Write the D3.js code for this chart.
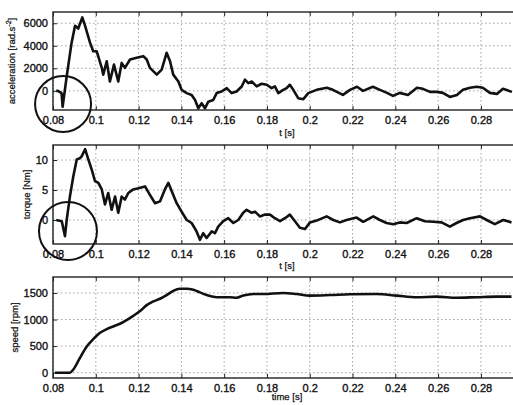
<!DOCTYPE html>
<html>
<head>
<meta charset="utf-8">
<script src="https://cdn.jsdelivr.net/npm/d3@7"></script>
<style>
  body { margin: 0; background: #fff; }
  svg { display: block; font-family: "Liberation Sans", Arial, sans-serif; }
  .grid line { stroke: #9a9a9a; stroke-width: 0.9; stroke-dasharray: 1.5 2.5; }
  .axis text { font-size: 11px; fill: #111; stroke: #111; stroke-width: 0.35; }
  .axis line { stroke: #222; }
  .axis path { display: none; }
  .frame { fill: none; stroke: #222; stroke-width: 1.4; }
  .curve { fill: none; stroke: #111; stroke-width: 2.6; stroke-linejoin: round; }
  .ring { fill: none; stroke: #111; stroke-width: 2; }
  .label { font-size: 9.5px; fill: #111; stroke: #111; stroke-width: 0.25; }
</style>
</head>
<body>
<div id="chart"></div>
<script>
// ---- data ----
const xTicks = [0.08, 0.1, 0.12, 0.14, 0.16, 0.18, 0.2, 0.22, 0.24, 0.26, 0.28];
const xTickLabels = ["0.08", "0.1", "0.12", "0.14", "0.16", "0.18", "0.2", "0.22", "0.24", "0.26", "0.28"];

const accelTicks = [0, 2000, 4000, 6000];
const torqueTicks = [0, 5, 10];
const speedTicks = [0, 500, 1000, 1500];

const accelTime = [0.0815, 0.0823, 0.0840, 0.0845, 0.0864, 0.0887, 0.0903, 0.0918, 0.0937, 0.0950,
  0.0973, 0.0988, 0.1004, 0.1028, 0.1035, 0.1051, 0.1066, 0.1085, 0.1105, 0.1121,
  0.1136, 0.1160, 0.1191, 0.1222, 0.1238, 0.1253, 0.1285, 0.1308, 0.1331, 0.1347,
  0.1362, 0.1386, 0.1401, 0.1425, 0.1448, 0.1464, 0.1479, 0.1495, 0.1510, 0.1526,
  0.1549, 0.1565, 0.1588, 0.1612, 0.1635, 0.1658, 0.1682, 0.1697, 0.1713, 0.1729,
  0.1752, 0.1775, 0.1799, 0.1822, 0.1837, 0.1853, 0.1876, 0.1892, 0.1907, 0.1923,
  0.1946, 0.1970, 0.1993, 0.2032, 0.2080, 0.2108, 0.2155, 0.2188, 0.2221, 0.2249,
  0.2295, 0.2328, 0.2361, 0.2389, 0.2421, 0.2459, 0.2501, 0.2529, 0.2562, 0.2594,
  0.2622, 0.2655, 0.2688, 0.2716, 0.2749, 0.2781, 0.2809, 0.2842, 0.2875, 0.2903, 0.2945];
const accel = [0, 0, -200, -1410, 1280, 4280, 5770, 5530, 6520, 5770,
  4280, 3520, 3520, 2040, 1440, 2630, 830, 2330, 830, 2480,
  2040, 2780, 2930, 3080, 2780, 2040, 1440, 1880, 3380, 2630,
  1440, 830, 90, -200, -360, -810, -1550, -1100, -1550, -960,
  -810, -200, -60, 240, -200, -60, 390, 990, 690, 830,
  390, 630, 540, 240, 390, -200, 90, 240, 540, 90,
  -650, -740, -200, 90, 270, 90, -360, 90, 360, 0,
  360, 90, -180, -450, -180, -360, 270, 180, -90, -90,
  -180, -540, -360, 90, 270, 360, 270, -180, -270, 180, -90];

const torqueTime = [0.0815, 0.0841, 0.0856, 0.0864, 0.0879, 0.0895, 0.0911, 0.0926, 0.0934, 0.0950,
  0.0965, 0.0981, 0.0996, 0.1012, 0.1028, 0.1043, 0.1058, 0.1074, 0.1090, 0.1105,
  0.1121, 0.1136, 0.1152, 0.1175, 0.1199, 0.1230, 0.1253, 0.1277, 0.1300, 0.1323,
  0.1339, 0.1355, 0.1378, 0.1401, 0.1425, 0.1448, 0.1471, 0.1487, 0.1502, 0.1518,
  0.1542, 0.1557, 0.1572, 0.1596, 0.1619, 0.1643, 0.1666, 0.1689, 0.1705, 0.1729,
  0.1744, 0.1767, 0.1791, 0.1814, 0.1837, 0.1861, 0.1884, 0.1907, 0.1931, 0.1954,
  0.1978, 0.2001, 0.2032, 0.2079, 0.2110, 0.2141, 0.2172, 0.2219, 0.2250, 0.2297,
  0.2328, 0.2359, 0.2390, 0.2421, 0.2453, 0.2500, 0.2538, 0.2577, 0.2616, 0.2655,
  0.2686, 0.2717, 0.2749, 0.2796, 0.2827, 0.2865, 0.2904, 0.2943];
const torque = [0, -0.2, -2.7, 0, 3.9, 7.3, 10.1, 10.3, 10.6, 11.8,
  10.1, 8.4, 6.5, 6.2, 5.1, 2.6, 4.5, 1.7, 3.9, 1.2,
  3.9, 3.4, 4.5, 5.1, 5.3, 5.6, 4.2, 2.8, 3.1, 5.1,
  6.2, 4.8, 2.8, 1.4, 0, -0.5, -1.9, -3.3, -2.2, -3,
  -1.9, -2.2, -1.1, -0.2, 0.3, -0.5, 0, 1.2, 1.7, 1.2,
  1.4, 0.6, 0.9, 0.9, 0.3, -0.2, 0.3, 0.9, -0.2, -1.3,
  -1.5, -0.4, -0.1, 0.6, 0, -0.4, 0, 0.4, -0.3, 0.6,
  0, -0.5, -0.7, -0.4, -0.5, 0.3, -0.2, -0.3, -0.4, -1.1,
  -0.5, 0, 0.3, 0.6, 0, -0.7, 0, -0.4];

const speedTime = [0.0809, 0.0879, 0.0895, 0.0926, 0.0957, 0.0988, 0.1020, 0.1051, 0.1082, 0.1113,
  0.1144, 0.1175, 0.1207, 0.1238, 0.1269, 0.1300, 0.1331, 0.1362, 0.1393, 0.1425,
  0.1456, 0.1487, 0.1518, 0.1549, 0.1580, 0.1627, 0.1658, 0.1689, 0.1736, 0.1783,
  0.1876, 0.1939, 0.2001, 0.2094, 0.2188, 0.2313, 0.2406, 0.2500, 0.2593, 0.2686,
  0.2780, 0.2873, 0.2943];
const speed = [0, 0, 60, 280, 490, 630, 750, 820, 870, 920,
  990, 1070, 1160, 1270, 1340, 1390, 1460, 1540, 1580, 1580,
  1560, 1510, 1460, 1430, 1420, 1420, 1410, 1450, 1480, 1480,
  1500, 1480, 1450, 1460, 1475, 1480, 1450, 1420, 1430, 1410,
  1420, 1430, 1430];

//size
const width = 513, height = 405;
const left = 53, right = 513;

//scale
const xScale = d3.scaleLinear().domain([0.08, 0.295]).range([left, right]);

const svg = d3.select("#chart").append("svg")
  .attr("width", width)
  .attr("height", height);

drawPanel({
  id: "acc", top: 12, bottom: 110, domain: [-1700, 7000], ticks: accelTicks,
  times: accelTime, values: accel, xLabel: "t [s]", xLabelGap: 26, curve: d3.curveLinear,
  yLabel: ["acceleration [rad.s", "-2", "]"], yLabelX: 15,
  ring: { t: 0.0847, v: -1170, r: 28 }
});

drawPanel({
  id: "tq", top: 145, bottom: 244, domain: [-4, 12.5], ticks: torqueTicks,
  times: torqueTime, values: torque, xLabel: "t [s]", xLabelGap: 25, curve: d3.curveLinear,
  yLabel: ["torque [Nm]"], yLabelX: 30,
  ring: { t: 0.0870, v: -1.83, r: 29 }
});

drawPanel({
  id: "spd", top: 277, bottom: 378, domain: [-100, 1800], ticks: speedTicks,
  times: speedTime, values: speed, xLabel: "time [s]", xLabelGap: 22, curve: d3.curveMonotoneX,
  yLabel: ["speed [rpm]"], yLabelX: 18
});

function drawPanel(p) {
  const yScale = d3.scaleLinear().domain(p.domain).range([p.bottom, p.top]);
  const g = svg.append("g");

  //grid
  const grid = g.append("g").attr("class", "grid");
  grid.selectAll("line.gx").data(xTicks).join("line")
    .attr("class", "gx")
    .attr("x1", (d) => xScale(d)).attr("x2", (d) => xScale(d))
    .attr("y1", p.top).attr("y2", p.bottom);
  grid.selectAll("line.gy").data(p.ticks).join("line")
    .attr("class", "gy")
    .attr("x1", left).attr("x2", right)
    .attr("y1", (d) => yScale(d)).attr("y2", (d) => yScale(d));

  //clip
  g.append("clipPath").attr("id", "clip-" + p.id)
    .append("rect")
    .attr("x", left).attr("y", p.top)
    .attr("width", right - left).attr("height", p.bottom - p.top);

  //mark
  const pts = p.times.map((t, i) => [t, p.values[i]]);
  g.append("path")
    .datum(pts)
    .attr("class", "curve")
    .attr("clip-path", `url(#clip-${p.id})`)
    .attr("d", d3.line().curve(p.curve)
      .x((d) => xScale(d[0]))
      .y((d) => yScale(d[1])));

  //axes (inward ticks like matlab)
  g.append("g").attr("class", "axis")
    .attr("transform", `translate(0,${p.bottom})`)
    .call(d3.axisBottom(xScale).tickValues(xTicks)
      .tickFormat((d, i) => xTickLabels[i]).tickSizeInner(-4).tickSizeOuter(0).tickPadding(6));
  g.append("g").attr("class", "axis")
    .attr("transform", `translate(0,${p.top})`)
    .call(d3.axisTop(xScale).tickValues(xTicks).tickFormat("").tickSizeInner(-4).tickSizeOuter(0));
  g.append("g").attr("class", "axis")
    .attr("transform", `translate(${left},0)`)
    .call(d3.axisLeft(yScale).tickValues(p.ticks).tickFormat(d3.format("d"))
      .tickSizeInner(-4).tickSizeOuter(0).tickPadding(5));

  //frame
  g.append("rect").attr("class", "frame")
    .attr("x", left).attr("y", p.top)
    .attr("width", right - left + 2).attr("height", p.bottom - p.top);

  //labels
  g.append("text").attr("class", "label")
    .attr("x", 287).attr("y", p.bottom + p.xLabelGap)
    .attr("text-anchor", "middle")
    .text(p.xLabel);

  const yl = g.append("text").attr("class", "label")
    .attr("text-anchor", "middle")
    .attr("transform", `translate(${p.yLabelX},${(p.top + p.bottom) / 2}) rotate(-90)`);
  yl.append("tspan").text(p.yLabel[0]);
  if (p.yLabel.length > 1) {
    yl.append("tspan").attr("dy", -4).attr("font-size", "7px").text(p.yLabel[1]);
    yl.append("tspan").attr("dy", 4).text(p.yLabel[2]);
  }

  //circle annotation
  if (p.ring) {
    g.append("circle").attr("class", "ring")
      .attr("cx", xScale(p.ring.t))
      .attr("cy", yScale(p.ring.v))
      .attr("r", p.ring.r);
  }
}
</script>
</body>
</html>
